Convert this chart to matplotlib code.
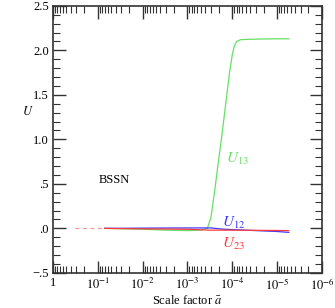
import matplotlib
matplotlib.use('Agg')
import matplotlib.pyplot as plt
import numpy as np
from matplotlib.ticker import FixedLocator, LogLocator, MultipleLocator, NullFormatter

plt.rcParams.update({'font.family': 'Liberation Serif', 'mathtext.fontset': 'stix',
                     'font.size': 8})

# dashed start (shared by all)
a_dash = [0.32, 0.07]
u_dash = [0.0, 0.0]

a13 = [0.07, 1e-2, 3e-3, 1e-3, 5e-4, 3.6e-4, 3.0e-4, 2.5e-4, 2.1e-4, 1.7e-4,
       1.4e-4, 1.15e-4, 1.0e-4, 9e-5, 8e-5, 6.5e-5, 4e-5, 1e-5, 5.5e-6]
u13 = [0.0, -0.01, -0.02, -0.025, -0.02, 0.0, 0.12, 0.4, 0.7, 1.05,
       1.4, 1.75, 1.95, 2.05, 2.1, 2.12, 2.125, 2.13, 2.13]

a12 = [0.07, 1e-2, 1e-3, 3e-4, 1.5e-4, 5e-5, 1e-5, 5.5e-6]
u12 = [0.0, 0.003, 0.005, 0.005, -0.01, -0.02, -0.035, -0.045]

a23 = [0.07, 1e-2, 1e-3, 3e-4, 1e-4, 1e-5, 5.5e-6]
u23 = [0.0, -0.005, -0.01, -0.02, -0.02, -0.024, -0.025]

xticks = [1, 1e-1, 1e-2, 1e-3, 1e-4, 1e-5, 1e-6]
xlabels = ['1', r'$10^{-1}$', r'$10^{-2}$', r'$10^{-3}$', r'$10^{-4}$', r'$10^{-5}$', r'$10^{-6}$']
yticks = [-0.5, 0.0, 0.5, 1.0, 1.5, 2.0, 2.5]
ylabels = ['\u2212.5', '.0', '.5', '1.0', '1.5', '2.0', '2.5']

green = '#66e066'
blue = '#3a3aff'
red = '#ff3a3a'

fig = plt.figure(figsize=(3.35, 3.08), dpi=100)
ax = fig.add_axes([0.158, 0.114, 0.803, 0.867])

ax.plot(a_dash, u_dash, color='#ff9090', lw=0.9, ls=(0, (3, 3)))
ax.plot(a13, u13, color=green, lw=0.9)
ax.plot(a12, u12, color=blue, lw=0.9)
ax.plot(a23, u23, color=red, lw=0.9)

ax.set_xscale('log')
ax.set_xlim(1, 1e-6)
ax.set_ylim(-0.5, 2.5)

ax.xaxis.set_major_locator(FixedLocator(xticks))
ax.set_xticklabels(xlabels)
ax.xaxis.set_minor_locator(LogLocator(base=10, subs=np.arange(2, 10)))
ax.xaxis.set_minor_formatter(NullFormatter())
ax.set_yticks(yticks)
ax.set_yticklabels(ylabels)
ax.yaxis.set_minor_locator(MultipleLocator(0.1))

ax.tick_params(which='both', direction='in', top=True, right=True, colors='#333333',
               labelcolor='black', labelsize=9)
ax.tick_params(which='major', length=9, width=1.0, pad=3)
ax.tick_params(which='minor', length=5, width=0.8)
for s in ax.spines.values():
    s.set_color('#333333')
    s.set_linewidth(1.2)

ax.set_xlabel(r'Scale factor $\bar{a}$', fontsize=9, labelpad=1)
ax.set_ylabel(r'$U$', fontsize=9, rotation=0)
ax.yaxis.set_label_coords(-0.093, 0.58)

ax.text(0.095, 0.545, 'BSSN', fontsize=9, ha='left', va='center')
ax.text(1.4e-4, 0.78, r'$U_{13}$', color=green, fontsize=11, ha='left', va='center')
ax.text(1.7e-4, 0.06, r'$U_{12}$', color=blue, fontsize=11, ha='left', va='center')
ax.text(1.7e-4, -0.18, r'$U_{23}$', color=red, fontsize=11, ha='left', va='center')

plt.savefig('out.png', dpi=100)
